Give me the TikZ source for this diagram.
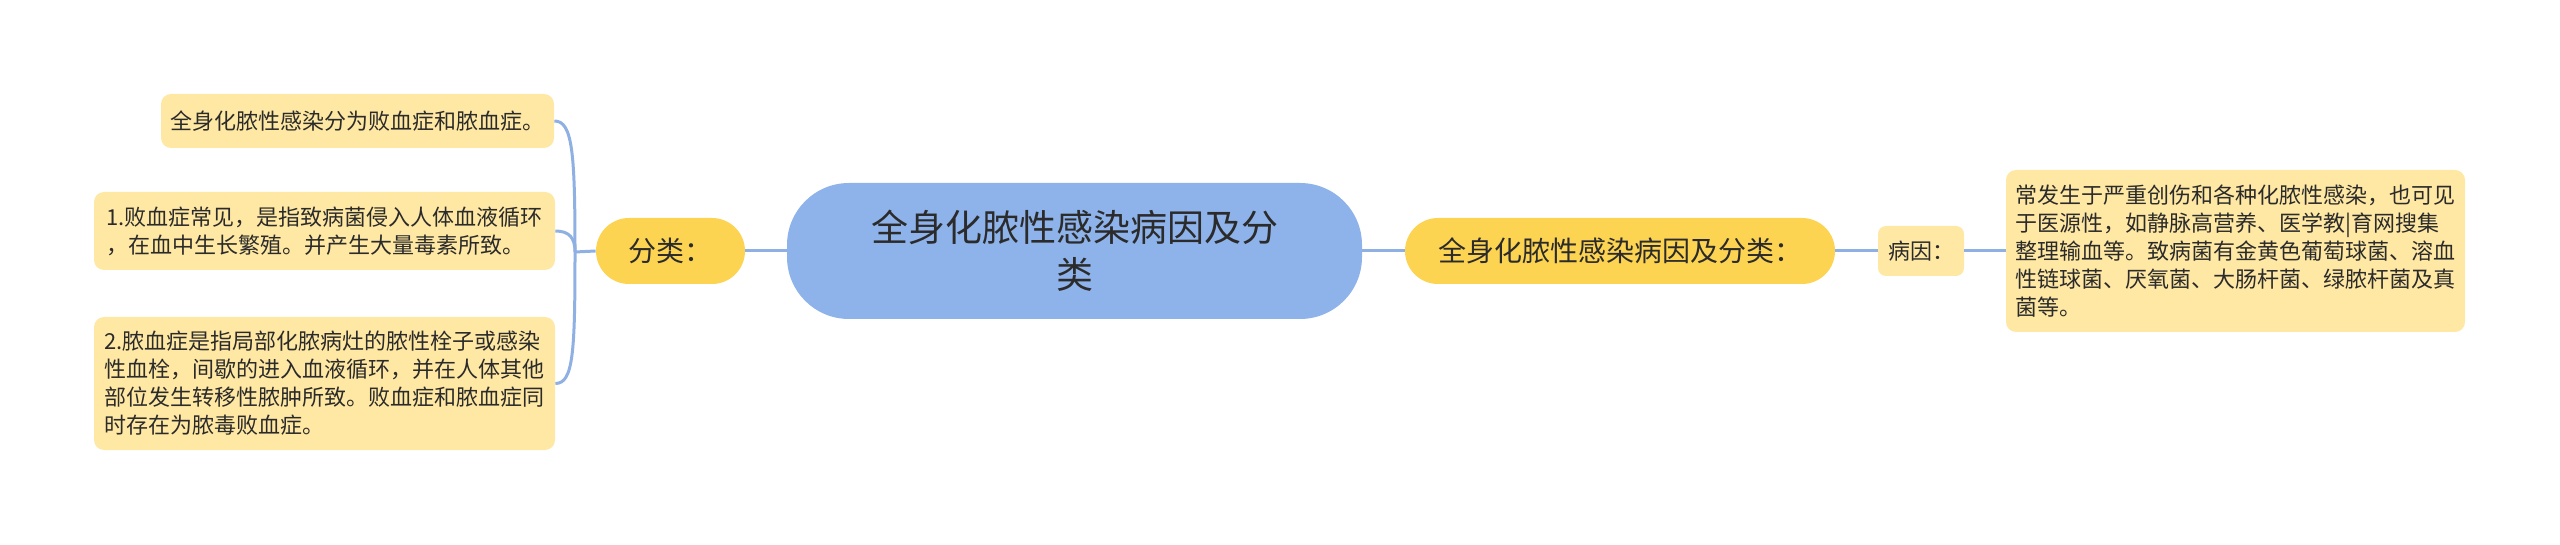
\documentclass[tikz,border=0pt]{standalone}
\usepackage{fontspec}
\setmainfont{Noto Sans CJK SC}
\definecolor{leafc}{HTML}{FFE8A3}
\definecolor{goldc}{HTML}{FDD352}
\definecolor{bluec}{HTML}{8EB3EB}
\definecolor{linec}{HTML}{8FB0E3}
\definecolor{txtc}{HTML}{2B2B2B}
\tikzset{
  conn/.style={draw=linec, line width=1.5pt},
  leafbox/.style={fill=leafc, rounded corners=5pt, text=txtc, align=left, inner sep=0pt,
    font=\fontsize{11}{14}\selectfont},
  goldbox/.style={fill=goldc, text=txtc, align=center, inner sep=0pt,
    font=\fontsize{14}{16}\selectfont},
  centralbox/.style={fill=bluec, text=txtc, align=center, inner sep=0pt,
    rounded corners=31pt, font=\fontsize{18.5}{23.5}\selectfont},
}
\begin{document}
\begin{tikzpicture}[x=0.5pt,y=-0.5pt]
\useasboundingbox (0,0) rectangle (2560,545);
% central
\node[centralbox, minimum width=287.5pt, minimum height=68pt] (center) at (1074.5,251)
  {全身化脓性感染病因及分\\类};
% left branch
\node[goldbox, rounded corners=16.5pt, minimum width=74.5pt, minimum height=33pt] (fenlei) at (670.5,251) {分类：};
\node[leafbox, align=center, minimum width=196.5pt, minimum height=27pt] (leafa) at (357.5,121)
  {全身化脓性感染分为败血症和脓血症。};
\node[leafbox, minimum width=230.5pt, minimum height=39pt] (leafb) at (324.5,231)
  {1.败血症常见，是指致病菌侵入人体血液循环\\，在血中生长繁殖。并产生大量毒素所致。};
\node[leafbox, minimum width=230.5pt, minimum height=66.5pt] (leafc) at (324.5,383.5)
  {2.脓血症是指局部化脓病灶的脓性栓子或感染\\性血栓，间歇的进入血液循环，并在人体其他\\部位发生转移性脓肿所致。败血症和脓血症同\\时存在为脓毒败血症。};
% right branch
\node[goldbox, rounded corners=16.5pt, minimum width=215pt, minimum height=33pt] (cause) at (1620,251) {全身化脓性感染病因及分类：};
\node[leafbox, align=center, rounded corners=4pt, minimum width=43pt, minimum height=25pt] (bingyin) at (1921,251) {病因：};
\node[leafbox, minimum width=229.5pt, minimum height=81pt] (detail) at (2235.5,251)
  {常发生于严重创伤和各种化脓性感染，也可见\\于医源性，如静脉高营养、医学教|育网搜集\\整理输血等。致病菌有金黄色葡萄球菌、溶血\\性链球菌、厌氧菌、大肠杆菌、绿脓杆菌及真\\菌等。};
% connectors
\coordinate (split) at (575,252);
\draw[conn] (center.west) -- (fenlei.east);
\draw[conn] (fenlei.west) -- (split);
\draw[conn] (split) .. controls +(0,-100) and +(18,0) .. (leafa.east);
\draw[conn] (split) .. controls +(0,-14) and +(14,0) .. (leafb.east);
\draw[conn] (split) .. controls +(0,100) and +(18,0) .. (leafc.east);
\draw[conn] (center.east) -- (cause.west);
\draw[conn] (cause.east) -- (bingyin.west);
\draw[conn] (bingyin.east) -- (detail.west);
\end{tikzpicture}
\end{document}
